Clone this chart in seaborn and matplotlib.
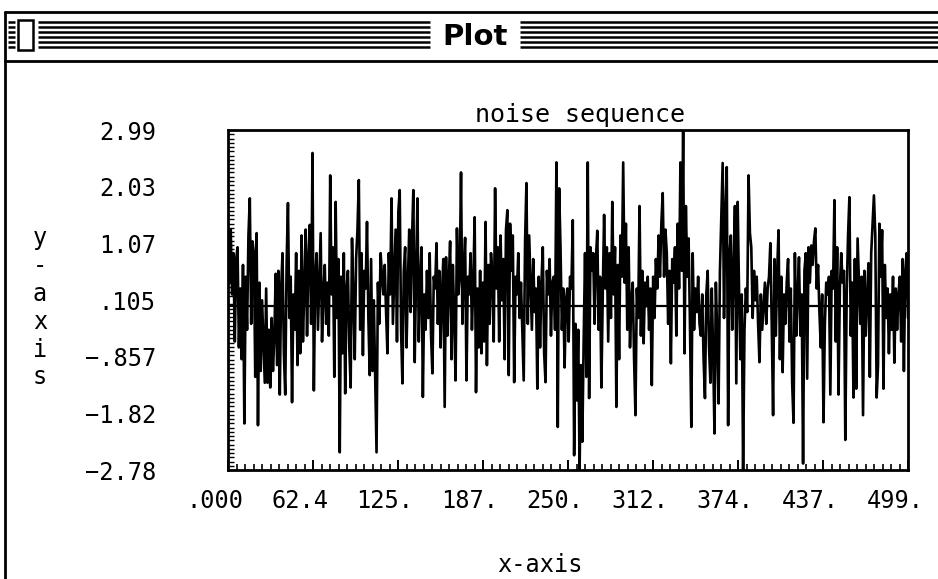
import numpy as np
import matplotlib
matplotlib.use("Agg")
import matplotlib.pyplot as plt
import matplotlib.transforms as mtransforms
from matplotlib.patches import Rectangle
from matplotlib.ticker import FixedLocator
import seaborn as sns

# noise samples, 500 points in five blocks
noise_000 = [1.1, 0.4, 1.3, 0.2, 0.9, -0.6, 0.8, 1.0, -0.7, 0.3,
             -0.9, 0.7, -1.99, 0.5, -0.4, 1.2, 1.83, -0.3, 1.1, 0.9,
             -1.2, 1.24, -2.02, 0.4, -1.1, 0.1, -0.6, -1.3, 0.3, -1.3,
             -0.4, -1.38, -0.2, -1.1, -0.5, 0.55, -1.0, 0.6, -1.5, 0.3,
             0.9, -0.8, -1.5, 0.7, 1.75, -0.2, 0.5, -1.63, 0.2, -0.4,
             0.9, -1.0, 0.6, -0.8, 1.2, -0.6, 0.3, 1.3, -0.5, 0.8,
             1.38, -0.3, 2.6, -1.43, 0.5, 0.9, -0.4, 0.4, 1.24, -0.6,
             0.2, 0.7, -0.3, 0.4, -0.5, 2.22, 0.2, 1.0, -1.2, 1.77,
             -0.2, 0.8, -2.48, 0.5, -0.8, 0.9, -1.48, 0.3, 0.6, -0.7,
             -1.38, 1.15, 0.2, -0.9, 0.8, 1.3, 2.14, -0.4, 0.9, -0.83]
noise_100 = [0.6, 0.3, 1.43, -0.2, -1.17, 0.8, -1.1, 0.1, -1.17, -2.48,
             0.4, -0.3, 0.9, 0.5, 0.2, 0.7, -0.1, -0.8, 0.9, 0.2,
             1.83, -0.3, 0.5, 1.3, -0.6, 1.6, 1.97, -0.4, -1.31, 0.6,
             1.0, -0.7, 0.4, 1.3, -0.1, 1.1, 1.97, -0.95, 0.5, 1.83,
             -0.6, 0.4, 1.0, -1.54, 0.2, -0.4, 0.6, -0.2, 0.9, -0.5,
             -1.14, 0.5, 0.3, 1.07, -0.3, 0.6, -0.7, 0.2, 0.8, -1.71,
             0.83, -0.5, 0.4, 1.1, -0.9, 0.7, -0.2, -1.26, 1.32, 0.2,
             0.5, 2.27, -0.3, 0.6, 1.16, -1.26, 0.5, 0.2, 0.9, -0.4,
             0.4, 1.51, -1.46, 0.3, -0.7, 0.6, -0.8, 0.4, -0.6, 1.43,
             -1.0, 0.7, -0.3, 0.9, 0.5, -0.6, 2.0, 0.3, 1.0, -0.6]
noise_200 = [1.2, 0.1, 0.8, -0.9, 1.3, 1.63, -1.17, 1.4, 0.6, 1.2,
             -1.29, 0.5, 0.2, 0.9, -0.2, 0.4, -0.4, -1.26, 1.1, 2.09,
             -0.3, 1.2, 0.4, -0.4, 0.8, -0.1, 0.3, -1.4, 0.5, -0.7,
             0.4, 1.0, -0.8, -1.29, 0.6, 0.2, 0.8, -0.5, 0.4, 0.5,
             -0.4, 2.44, -2.05, 2.0, 1.0, -0.4, 0.3, -1.04, 0.1, 0.3,
             -0.6, 0.5, 0.3, 1.46, -2.53, -0.3, -1.6, -0.4, -2.78, -1.0,
             -2.3, -0.6, 0.9, -1.2, 2.44, -1.56, 1.0, 0.6, 0.9, -0.3,
             0.8, 1.28, -0.4, 0.5, -1.38, 0.2, 1.55, 0.3, 1.0, -0.6,
             0.9, -0.2, 1.77, 0.2, 1.0, -1.71, 0.7, -0.9, 1.2, 0.5,
             2.44, 0.4, 1.4, -0.4, 1.0, -0.7, 0.1, 0.4, -0.9, -1.85]
noise_300 = [0.3, -0.2, 1.7, -0.5, 0.6, -0.63, 0.4, 0.0, 0.5, -0.4,
             0.3, -1.34, 0.5, -0.2, 0.8, 0.3, 1.2, 0.5, 1.4, 1.92,
             0.5, 1.3, 0.9, -0.3, 0.6, -0.97, 0.8, 0.4, 1.0, -0.5,
             1.4, 0.3, 2.44, 0.6, 2.99, -0.8, 1.7, 0.5, 1.15, -0.3,
             -2.05, 0.9, -0.4, 0.3, -0.1, 0.5, -0.3, -0.5, 0.2, -0.9,
             -1.56, 0.2, 0.6, -0.7, -1.3, 0.3, -0.8, -2.16, 0.4, -0.5,
             -1.65, 0.6, 1.5, 2.43, -0.2, 1.6, 2.36, -2.02, 0.9, 1.2,
             -0.4, 0.6, 1.7, -1.31, 1.77, 0.3, -0.9, 0.2, -2.78, -0.4,
             0.3, -0.1, 2.22, 1.24, 1.0, -0.2, 0.6, 0.1, 0.5, -0.3,
             -0.95, 0.2, -0.4, 0.0, 0.4, -0.3, 0.3, 0.5, 1.07, -0.3]
noise_400 = [-1.85, 0.8, -0.5, 0.6, 1.29, -0.9, 0.5, -1.12, 0.2, -0.3,
             0.4, 0.8, -0.6, 0.3, -1.3, -1.98, 0.9, -0.5, 0.2, 0.83,
             -0.5, 0.2, -2.67, 0.6, 0.9, -1.23, 1.0, 0.4, 1.03, 0.7,
             1.1, 1.32, 0.3, 0.7, -0.1, -0.7, 0.2, -1.97, -0.3, 0.4,
             0.2, 0.5, -1.5, 0.6, 0.3, 1.8, -0.6, 1.0, -1.5, 0.3,
             0.9, 0.4, 0.6, -2.27, 0.2, 1.2, 1.85, -0.5, 0.4, -1.55,
             0.8, -1.4, 1.15, 0.4, -0.3, 0.5, -1.85, 0.6, -0.5, 0.2,
             0.73, -1.2, 0.9, 1.4, 1.88, 1.2, -1.55, -1.0, 1.4, 0.5,
             1.29, -1.4, 0.7, -0.2, 0.3, -0.8, 0.2, -0.4, 0.5, -0.96,
             0.3, -0.4, 0.2, 0.5, -0.6, 0.8, -1.1, 0.6, 0.9, -0.2]

x_tick_labels = [".000", "62.4", "125.", "187.", "250.", "312.", "374.", "437.", "499."]
y_tick_labels = ["2.99", "2.03", "1.07", ".105", "\u2212.857", "\u22121.82", "\u22122.78"]
x_min, x_max = 0, 499
y_min, y_max = -2.78, 2.99

samples = noise_000 + noise_100 + noise_200 + noise_300 + noise_400
index = np.arange(len(samples))

sns.set_style("white")
plt.rcParams['font.family'] = ['DejaVu Sans Mono', 'DejaVu Sans']
plt.rcParams['text.color'] = 'black'

W, H = 938, 579
fig = plt.figure(figsize=(W / 100, H / 100), dpi=100)
fig.patch.set_facecolor('white')

# window chrome, drawn in pixel coordinates
chrome = fig.add_axes([0, 0, 1, 1], zorder=-1)
chrome.set_xlim(0, W)
chrome.set_ylim(H, 0)
chrome.axis('off')
chrome.plot([5, W], [12, 12], color='black', lw=2)
chrome.plot([5, W], [61, 61], color='black', lw=2)
chrome.plot([5, 5], [12, H], color='black', lw=2)
for yy in [22, 27, 32, 37, 42, 47]:
    chrome.plot([8, 15], [yy, yy], color='black', lw=1.8, solid_capstyle='butt')
    chrome.plot([38, 430], [yy, yy], color='black', lw=1.8, solid_capstyle='butt')
    chrome.plot([520, W], [yy, yy], color='black', lw=1.8, solid_capstyle='butt')
chrome.add_patch(Rectangle((18, 20), 15, 30, facecolor='white', edgecolor='black', lw=1.8))
chrome.text(475, 37, "Plot", ha='center', va='center', fontsize=21,
            fontweight='bold', family='DejaVu Sans', color='black')

# the plot itself
ax = fig.add_axes([228 / W, 1 - 470 / H, 680 / W, 340 / H])
sns.lineplot(x=index, y=samples, ax=ax, color='black', linewidth=1.9)
ax.axhline(0, color='black', lw=1.6)
ax.set_xlim(x_min, x_max)
ax.set_ylim(y_min, y_max)
ax.set_xlabel('')
ax.set_ylabel('')

ax.set_xticks(np.linspace(x_min, x_max, len(x_tick_labels)))
ax.set_xticklabels(x_tick_labels, fontsize=17)
ax.set_yticks(np.linspace(y_max, y_min, len(y_tick_labels)))
ax.set_yticklabels(y_tick_labels, fontsize=17)
ax.xaxis.set_minor_locator(FixedLocator(np.arange(0, x_max + 1, (x_max - x_min) / 80)))
ax.yaxis.set_minor_locator(FixedLocator(np.linspace(y_min, y_max, 81)))
ax.tick_params(axis='x', which='major', direction='in', length=7, width=1.4, pad=14,
               bottom=True, top=False, labelcolor='black', color='black')
ax.tick_params(axis='x', which='minor', direction='in', length=4, width=1.2,
               bottom=True, top=False, color='black')
ax.tick_params(axis='y', which='major', length=0, pad=52, left=True, right=False,
               labelcolor='black')
ax.tick_params(axis='y', which='minor', direction='in', length=4, width=1.0,
               left=True, right=False, color='black')
for sp in ax.spines.values():
    sp.set_visible(True)
    sp.set_color('black')
    sp.set_linewidth(2)

shift = mtransforms.ScaledTranslation(-13 / 100, 0, fig.dpi_scale_trans)
for lab in ax.get_xticklabels():
    lab.set_transform(lab.get_transform() + shift)

fig.text(580 / W, 1 - 115 / H, "noise sequence", ha='center', va='center', fontsize=18)
fig.text(540 / W, 1 - 565 / H, "x-axis", ha='center', va='center', fontsize=17)
fig.text(40 / W, 1 - 308 / H, "y\n-\na\nx\ni\ns", ha='center', va='center',
         fontsize=17, linespacing=1.2)

fig.savefig('out.png', dpi=100, facecolor='white')
